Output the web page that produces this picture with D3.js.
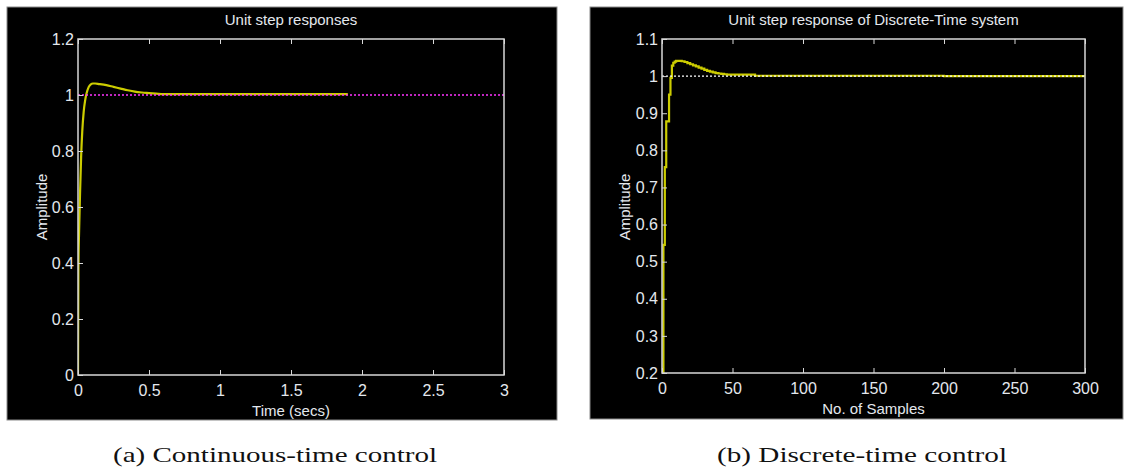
<!DOCTYPE html>
<html>
<head>
<meta charset="utf-8">
<script src="https://cdn.jsdelivr.net/npm/d3@7"></script>
<style>
  body { margin: 0; background: #fff; }
  svg { display: block; }
  .axis text { fill: #e4e8ee; font-family: "Liberation Sans", Arial, sans-serif; font-size: 16px; }
  .axis line { stroke: #d8d8d8; }
  .axis path { display: none; }
</style>
</head>
<body>
<div id="wrapper"></div>
<script>
// continuous-time step response (time in secs, amplitude)
const contTime = [0, 0.003, 0.008, 0.015, 0.022, 0.03, 0.04, 0.05, 0.06, 0.075, 0.09, 0.105, 0.12, 0.15, 0.2, 0.25, 0.3, 0.35, 0.4, 0.45, 0.5, 0.55, 0.6, 1.0, 1.5, 1.9]
const contAmp  = [0, 0.38, 0.52, 0.66, 0.78, 0.87, 0.94, 0.98, 1.005, 1.028, 1.038, 1.041, 1.041, 1.039, 1.035, 1.029, 1.023, 1.017, 1.012, 1.009, 1.007, 1.005, 1.003, 1.003, 1.003, 1.003]
const contRef = 1

// discrete-time step response (sample index, amplitude)
const discN   = [0, 1, 2, 3, 5, 6, 7, 8, 9, 10, 12, 14, 16, 18, 20, 22, 24, 26, 28, 30, 32, 34, 36, 38, 40, 42, 44, 46, 50, 60, 66, 100, 150, 200, 300]
const discAmp = [0, 0.545, 0.755, 0.878, 0.95, 0.995, 1.028, 1.036, 1.039, 1.041, 1.041, 1.04, 1.038, 1.035, 1.032, 1.029, 1.026, 1.023, 1.02, 1.017, 1.014, 1.012, 1.01, 1.008, 1.007, 1.006, 1.005, 1.004, 1.004, 1.004, 1.001, 1.001, 1.001, 1.0, 1.0]
const discRef = 1

const contXTicks = [0, 0.5, 1, 1.5, 2, 2.5, 3]
const contYTicks = [0, 0.2, 0.4, 0.6, 0.8, 1, 1.2]
const discXTicks = [0, 50, 100, 150, 200, 250, 300]
const discYTicks = [0.2, 0.3, 0.4, 0.5, 0.6, 0.7, 0.8, 0.9, 1, 1.1]

const svg = d3.select("#wrapper").append("svg")
    .attr("width", 1131)
    .attr("height", 471)

const fmt = d => String(+(+d).toFixed(1))

function drawPanel(o) {
  const g = svg.append("g")

  g.append("rect")
      .attr("x", o.box[0]).attr("y", o.box[1])
      .attr("width", o.box[2]).attr("height", o.box[3])
      .attr("fill", "#000")
      .attr("stroke", "#8a8a8a")

  const x = d3.scaleLinear().domain(o.xDomain).range([o.left, o.right])
  const y = d3.scaleLinear().domain(o.yDomain).range([o.bottom, o.top])

  const clipId = "clip-" + o.id
  g.append("clipPath").attr("id", clipId)
    .append("rect")
      .attr("x", o.left).attr("y", o.top - 2)
      .attr("width", o.right - o.left).attr("height", o.bottom - o.top + 2)

  // data line
  const line = d3.line()
      .x((d, i) => x(o.xs[i]))
      .y(d => y(d))
      .curve(o.curve)

  g.append("path")
      .datum(o.ys)
      .attr("clip-path", `url(#${clipId})`)
      .attr("fill", "none")
      .attr("stroke", "#cccc00")
      .attr("stroke-width", 2.2)
      .attr("d", line)

  // reference line, dotted on top of the response
  g.append("line")
      .attr("x1", o.left).attr("x2", o.right)
      .attr("y1", y(o.ref)).attr("y2", y(o.ref))
      .attr("stroke", o.refColor)
      .attr("stroke-width", 1.3)
      .attr("stroke-dasharray", "2,2")

  // box
  g.append("rect")
      .attr("x", o.left).attr("y", o.top)
      .attr("width", o.right - o.left).attr("height", o.bottom - o.top)
      .attr("fill", "none")
      .attr("stroke", "#d8d8d8")
      .attr("stroke-width", 1.5)

  g.append("g").attr("class", "axis")
      .attr("transform", `translate(0,${o.bottom})`)
      .call(d3.axisBottom(x).tickValues(o.xTicks).tickFormat(fmt).tickSize(-5).tickPadding(10))

  g.append("g").attr("class", "axis")
      .attr("transform", `translate(0,${o.top})`)
      .call(d3.axisTop(x).tickValues(o.xTicks).tickFormat("").tickSize(-5))

  g.append("g").attr("class", "axis")
      .attr("transform", `translate(${o.left},0)`)
      .call(d3.axisLeft(y).tickValues(o.yTicks).tickFormat(fmt).tickSize(-5).tickPadding(4))

  const textStyle = sel => sel
      .attr("fill", "#e4e8ee")
      .attr("font-family", "'Liberation Sans', Arial, sans-serif")
      .attr("font-size", 15)
      .attr("text-anchor", "middle")

  g.append("text").call(textStyle)
      .attr("x", (o.left + o.right) / 2).attr("y", 25)
      .text(o.title)

  g.append("text").call(textStyle)
      .attr("x", (o.left + o.right) / 2).attr("y", o.bottom + 41)
      .text(o.xLabel)

  g.append("text").call(textStyle)
      .attr("transform", `translate(${o.yLabelX},207) rotate(-90)`)
      .text("Amplitude")

  svg.append("text")
      .attr("x", o.caption[1]).attr("y", 462)
      .attr("text-anchor", "middle")
      .attr("font-family", "'Liberation Serif', serif")
      .attr("font-size", 22)
      .attr("fill", "#111")
      .attr("textLength", o.caption[2])
      .attr("lengthAdjust", "spacingAndGlyphs")
      .text(o.caption[0])
}

drawPanel({
  id: "a",
  box: [7, 7, 550, 413],
  left: 78, right: 504, top: 39, bottom: 375,
  xDomain: [0, 3], yDomain: [0, 1.2],
  xs: contTime, ys: contAmp, curve: d3.curveMonotoneX,
  ref: contRef, refColor: "#ff33ff",
  xTicks: contXTicks, yTicks: contYTicks,
  title: "Unit step responses",
  xLabel: "Time (secs)",
  yLabelX: 47,
  caption: ["(a) Continuous-time control", 275, 324]
})

drawPanel({
  id: "b",
  box: [590, 7, 533, 412],
  left: 662, right: 1085, top: 39, bottom: 373,
  xDomain: [0, 300], yDomain: [0.2, 1.1],
  xs: discN, ys: discAmp, curve: d3.curveStepAfter,
  ref: discRef, refColor: "#ffffff",
  xTicks: discXTicks, yTicks: discYTicks,
  title: "Unit step response of Discrete-Time system",
  xLabel: "No. of Samples",
  yLabelX: 630,
  caption: ["(b) Discrete-time control", 862, 290]
})
</script>
</body>
</html>
